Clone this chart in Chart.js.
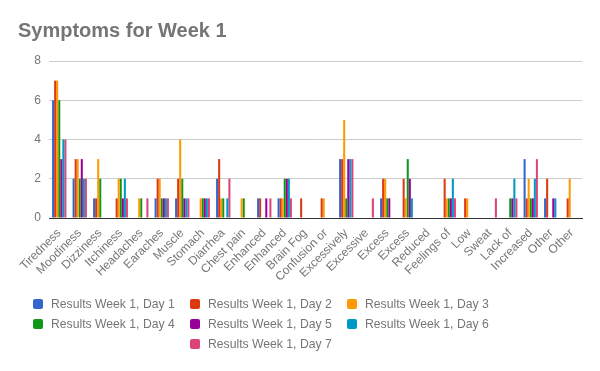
<!DOCTYPE html>
<html>
<head>
<meta charset="utf-8">
<script src="https://cdn.jsdelivr.net/npm/chart.js@4/dist/chart.umd.min.js"></script>
<style>
  body { margin: 0; background: #fff; font-family: Arial, "Liberation Sans", sans-serif; }
  #wrap { position: relative; width: 600px; height: 371px; }
  #legend .item { position: absolute; font-size: 12.2px; color: #757575; line-height: 16px; white-space: nowrap; }
  #legend .sw { position: absolute; width: 10px; height: 10px; border-radius: 2px; top: 3px; }
</style>
</head>
<body>
<div id="wrap">
  <canvas id="chart" width="600" height="371"></canvas>
  <div id="legend"></div>
</div>
<script>
const categories = ['Tiredness', 'Moodiness', 'Dizziness', 'Itchiness', 'Headaches', 'Earaches', 'Muscle',
  'Stomach', 'Diarrhea', 'Chest pain', 'Enhanced', 'Enhanced', 'Brain Fog', 'Confusion or', 'Excessively',
  'Excessive', 'Excess', 'Excess', 'Reduced', 'Feelings of', 'Low', 'Sweat', 'Lack of', 'Increased', 'Other', 'Other'];

const seriesNames = ['Results Week 1, Day 1', 'Results Week 1, Day 2', 'Results Week 1, Day 3',
  'Results Week 1, Day 4', 'Results Week 1, Day 5', 'Results Week 1, Day 6', 'Results Week 1, Day 7'];

const day1 = [6, 2, 1, 0, 0, 1, 1, 0, 2, 0, 1, 1, 0, 0, 3, 0, 1, 0, 0, 0, 0, 0, 0, 3, 1, 0];
const day2 = [7, 3, 1, 1, 0, 2, 2, 0, 3, 0, 1, 1, 1, 1, 3, 0, 2, 2, 0, 2, 1, 0, 0, 1, 2, 1];
const day3 = [7, 3, 3, 2, 1, 2, 4, 1, 1, 1, 0, 1, 0, 1, 5, 0, 2, 1, 0, 1, 1, 0, 0, 2, 0, 2];
const day4 = [6, 2, 2, 2, 1, 1, 2, 1, 1, 1, 0, 2, 0, 0, 1, 0, 1, 3, 0, 1, 0, 0, 1, 1, 0, 0];
const day5 = [3, 3, 0, 1, 0, 1, 1, 1, 0, 0, 1, 2, 0, 0, 3, 0, 1, 2, 0, 1, 0, 0, 1, 1, 1, 0];
const day6 = [4, 2, 0, 2, 0, 1, 1, 1, 1, 0, 0, 2, 0, 0, 3, 0, 0, 1, 0, 2, 0, 0, 2, 2, 1, 0];
const day7 = [4, 2, 0, 1, 1, 1, 1, 1, 2, 0, 1, 1, 0, 0, 3, 1, 0, 0, 0, 1, 0, 1, 1, 3, 0, 0];

const yTicks = [0, 2, 4, 6, 8];

const colors = ['#3366cc', '#dc3912', '#ff9900', '#109618', '#990099', '#0099c6', '#dd4477'];
const seriesValues = [day1, day2, day3, day4, day5, day6, day7];

const datasets = seriesValues.map((vals, i) => ({
  label: seriesNames[i],
  data: vals,
  backgroundColor: colors[i],
  borderWidth: 0,
  categoryPercentage: 0.7,
  barPercentage: 1.0
}));

new Chart(document.getElementById('chart'), {
  type: 'bar',
  data: { labels: categories, datasets: datasets },
  options: {
    responsive: false,
    animation: false,
    events: [],
    layout: { padding: { left: 18, right: 18, top: 0, bottom: 73 } },
    plugins: {
      legend: { display: false },
      tooltip: { enabled: false },
      title: {
        display: true,
        text: 'Symptoms for Week 1',
        align: 'start',
        color: '#757575',
        font: { family: 'Arial, "Liberation Sans", sans-serif', size: 20, weight: 'bold' },
        padding: { top: 19, bottom: 18 }
      }
    },
    scales: {
      x: {
        grid: { display: false, drawTicks: false },
        border: { display: true, color: '#333', width: 1 },
        ticks: {
          autoSkip: false,
          minRotation: 45,
          maxRotation: 45,
          padding: 8,
          color: '#757575',
          font: { family: 'Arial, "Liberation Sans", sans-serif', size: 12 }
        },
        afterFit: scale => { scale.height = 80; }
      },
      y: {
        min: 0,
        max: 8,
        afterBuildTicks: scale => { scale.ticks = yTicks.map(v => ({ value: v })); },
        grid: { color: '#cccccc', drawTicks: false },
        border: { display: false },
        ticks: {
          padding: 8,
          color: '#757575',
          font: { family: 'Arial, "Liberation Sans", sans-serif', size: 12 }
        },
        afterFit: scale => { scale.width = 31; }
      }
    }
  }
});

// legend laid out in three columns like the original
const legend = document.getElementById('legend');
const colX = [33, 190, 347];
const rowY = [296, 316, 336];
seriesNames.forEach((name, i) => {
  let col = i % 3, row = Math.floor(i / 3);
  if (i === 6) col = 1;
  const item = document.createElement('div');
  item.className = 'item';
  item.style.left = colX[col] + 'px';
  item.style.top = rowY[row] + 'px';
  item.innerHTML = `<span class="sw" style="left:0;background:${colors[i]}"></span><span style="margin-left:18px">${name}</span>`;
  legend.appendChild(item);
});
</script>
</body>
</html>
